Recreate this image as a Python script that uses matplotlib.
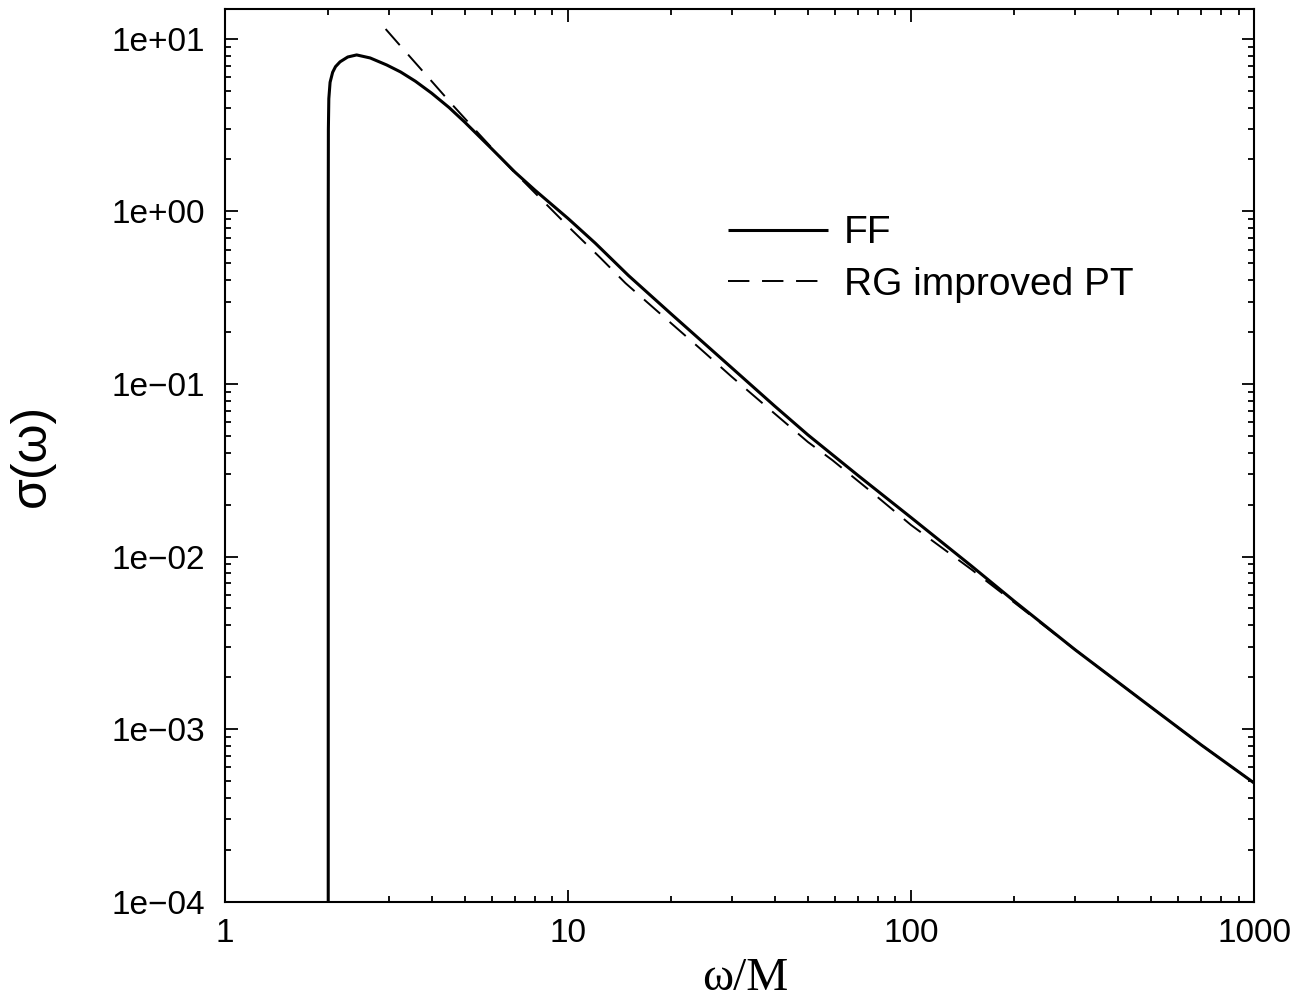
import matplotlib

matplotlib.use("Agg")

import matplotlib.pyplot as plt
from matplotlib.ticker import FixedLocator, FixedFormatter, LogLocator, NullFormatter

# FF cross section
ff_w = [2.0, 2.0003, 2.002, 2.008, 2.025, 2.06, 2.1, 2.165, 2.28, 2.42, 2.65,
        2.96, 3.25, 3.59, 4.0, 4.5, 5.0, 6.0, 7.0, 8.0, 10.0, 12.0, 15.0, 20.0,
        30.0, 40.0, 50.0, 70.0, 100.0, 150.0, 200.0, 300.0, 500.0, 700.0, 1000.0]
ff_sigma = [1e-4, 1.0, 3.0, 4.5, 5.6, 6.4, 6.9, 7.36, 7.85, 8.07, 7.75,
            7.06, 6.43, 5.68, 4.85, 4.0, 3.29, 2.30, 1.69, 1.33, 0.91, 0.655, 0.425, 0.254,
            0.124, 0.0745, 0.0507, 0.0295, 0.0168, 0.0088, 0.0055, 0.00289, 0.00134, 0.00081, 0.000486]

# RG improved perturbation theory
rg_w = [2.94, 3.31, 3.91, 4.63, 5.5, 6.87, 8.6, 10.27, 12.4, 14.7, 17.9, 24.2,
        30.0, 37.9, 50.0, 58.9, 75.0, 100.0, 150.0, 200.0, 300.0, 500.0, 700.0, 1000.0]
rg_sigma = [11.4, 8.71, 5.99, 4.09, 2.81, 1.74, 1.11, 0.778, 0.54, 0.384, 0.272, 0.161,
            0.110, 0.0738, 0.0461, 0.0362, 0.0245, 0.0152, 0.0084, 0.0054, 0.00289, 0.00134,
            0.00081, 0.000486]

x_ticks = [1, 10, 100, 1000]
x_tick_labels = ["1", "10", "100", "1000"]
y_ticks = [1e-4, 1e-3, 1e-2, 1e-1, 1e0, 1e1]
y_tick_labels = ["1e\u221204", "1e\u221203", "1e\u221202", "1e\u221201", "1e+00", "1e+01"]

sans = ["Liberation Sans", "DejaVu Sans"]
serif = ["Liberation Serif", "DejaVu Serif"]

fig = plt.figure(figsize=(13.07, 10.08), dpi=100)
ax = fig.add_axes([0.1721, 0.1055, 0.7876, 0.8856])

ax.plot(ff_w, ff_sigma, color="black", lw=2.2, solid_capstyle="butt",
        solid_joinstyle="round", label="FF")
ax.plot(rg_w, rg_sigma, color="black", lw=1.4, dashes=(11, 6.5), label="RG improved PT")

ax.set_xscale("log")
ax.set_yscale("log")
ax.set_xlim(1, 1000)
ax.set_ylim(1e-4, 14.9)

ax.xaxis.set_major_locator(FixedLocator(x_ticks))
ax.xaxis.set_major_formatter(FixedFormatter(x_tick_labels))
ax.yaxis.set_major_locator(FixedLocator(y_ticks))
ax.yaxis.set_major_formatter(FixedFormatter(y_tick_labels))
for axis in (ax.xaxis, ax.yaxis):
    axis.set_minor_locator(LogLocator(base=10, subs=range(2, 10), numticks=20))
    axis.set_minor_formatter(NullFormatter())

ax.tick_params(which="both", direction="in", top=True, right=True, width=1.3, colors="black")
ax.tick_params(which="major", length=9)
ax.tick_params(which="minor", length=4.5)
ax.tick_params(axis="y", which="major", pad=14)
ax.tick_params(axis="x", which="major", pad=12)
for lab in ax.get_xticklabels() + ax.get_yticklabels():
    lab.set_family(sans)
    lab.set_fontsize(24)

for sp in ax.spines.values():
    sp.set_linewidth(1.5)

ax.set_xlabel("\u03c9/M", family=serif, fontsize=34)
ax.xaxis.set_label_coords(0.505, -0.063)
ax.xaxis.label.set_va("top")
ax.set_ylabel("\u03c3(\u03c9)", family=sans, fontsize=36)
ax.yaxis.set_label_coords(-0.165, 0.5)

leg = ax.legend(loc="center left", bbox_to_anchor=(0.489, 0.72), frameon=False,
                borderpad=0, borderaxespad=0, handlelength=2.57, handletextpad=0.4,
                labelspacing=0.4, prop={"family": sans, "size": 28})

fig.savefig("out.png", dpi=100)
